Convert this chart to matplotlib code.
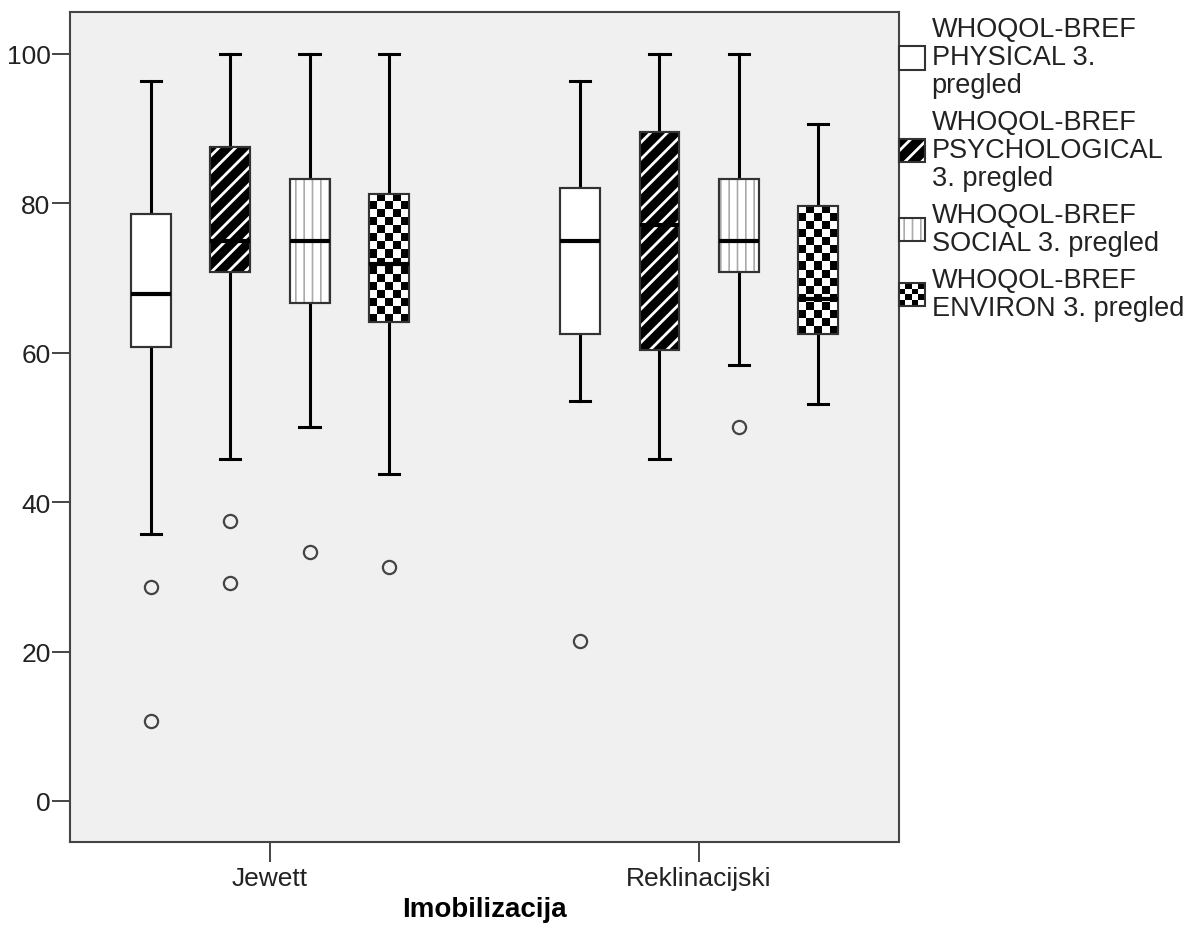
import numpy as np
import matplotlib
matplotlib.use('Agg')
import matplotlib.pyplot as plt
from matplotlib.patches import PathPatch, Rectangle, Patch
from matplotlib.legend_handler import HandlerBase

plt.rcParams['font.family'] = ['Liberation Sans', 'DejaVu Sans']
plt.rcParams['hatch.linewidth'] = 2.0

# Podaci (procijenjeno sa slike)
groups = ['Jewett', 'Reklinacijski']
series = ['WHOQOL-BREF\nPHYSICAL 3.\npregled',
          'WHOQOL-BREF\nPSYCHOLOGICAL\n3. pregled',
          'WHOQOL-BREF\nSOCIAL 3. pregled',
          'WHOQOL-BREF\nENVIRON 3. pregled']

# redoslijed: [physical, psychological, social, environ]
jew_whishi = [96.4, 100.0, 100.0, 100.0]
jew_q3 = [78.6, 87.5, 83.3, 81.3]
jew_med = [67.9, 75.0, 75.0, 71.9]
jew_q1 = [60.7, 70.8, 66.7, 64.1]
jew_whislo = [35.7, 45.8, 50.0, 43.8]
jew_fliers = [[28.6, 10.7], [37.5, 29.2], [33.3], [31.3]]

rek_whishi = [96.4, 100.0, 100.0, 90.6]
rek_q3 = [82.1, 89.6, 83.3, 79.7]
rek_med = [75.0, 77.1, 75.0, 67.2]
rek_q1 = [62.5, 60.4, 70.8, 62.5]
rek_whislo = [53.6, 45.8, 58.3, 53.1]
rek_fliers = [[21.4], [], [50.0], []]

styles = ['plain', 'stripes', 'dots', 'checker']

fig = plt.figure(figsize=(11.99, 9.45), dpi=100)
ax = fig.add_axes([0.0584, 0.1079, 0.6914, 0.8783])
ax.set_facecolor('#f0f0f0')

def make_stats(whishi, q3, med, q1, whislo, fliers):
    out = []
    for i in range(4):
        out.append(dict(med=med[i], q1=q1[i], q3=q3[i], whislo=whislo[i],
                        whishi=whishi[i], fliers=fliers[i]))
    return out

stats = make_stats(jew_whishi, jew_q3, jew_med, jew_q1, jew_whislo, jew_fliers) + \
        make_stats(rek_whishi, rek_q3, rek_med, rek_q1, rek_whislo, rek_fliers)

step = 0.1846
offsets = (np.arange(4) - 1.5) * step
positions = np.concatenate([g + offsets for g in range(len(groups))])
box_w = 0.093

bp = ax.bxp(stats, positions=positions, widths=box_w, patch_artist=True,
            showfliers=True, manage_ticks=False,
            boxprops=dict(facecolor='white', edgecolor='#333333', linewidth=1.5),
            whiskerprops=dict(color='black', linewidth=2.2, zorder=1.5),
            capprops=dict(color='black', linewidth=2.2),
            capwidths=0.047,
            medianprops=dict(color='black', linewidth=3.0, zorder=4),
            flierprops=dict(marker='o', markerfacecolor='none', markeredgecolor='#444444',
                            markersize=9.5, markeredgewidth=1.6))

ypx = 7.47  # piksela po jedinici na y osi

for k, box in enumerate(bp['boxes']):
    st = styles[k % 4]
    path = box.get_path()
    verts = path.vertices
    x0, x1 = verts[:, 0].min(), verts[:, 0].max()
    y0, y1 = verts[:, 1].min(), verts[:, 1].max()
    if st == 'stripes':
        box.set_facecolor('black')
        ax.add_patch(PathPatch(path, facecolor='none', edgecolor='white', hatch='//',
                               linewidth=0, zorder=2.2))
    elif st == 'dots':
        p = PathPatch(path, facecolor='none', edgecolor='#aaaaaa', hatch='||',
                      linewidth=0, zorder=2.2)
        if hasattr(p, 'set_hatch_linewidth'):
            p.set_hatch_linewidth(1.2)
        ax.add_patch(p)
    elif st == 'checker':
        nrow = max(1, int(round((y1 - y0) * ypx / 8)))
        ncol = 5
        img = (np.add.outer(np.arange(nrow), np.arange(ncol)) % 2).astype(float)
        ax.imshow(img, cmap='gray', extent=(x0, x1, y0, y1), aspect='auto',
                  interpolation='nearest', zorder=2.2, origin='lower')
    ax.add_patch(PathPatch(path, facecolor='none', edgecolor='#333333',
                           linewidth=1.5, zorder=3))

ax.set_xlim(-0.466, 1.466)
ax.set_ylim(-5.5, 105.6)
ax.set_yticks([0, 20, 40, 60, 80, 100])
ax.set_xticks(range(len(groups)))
ax.set_xticklabels(groups)
ax.tick_params(axis='y', length=13, width=1.4, color='#444444', labelsize=19,
               labelcolor='#222222', pad=1)
ax.tick_params(axis='x', length=14.5, width=1.4, color='#444444', labelsize=19,
               labelcolor='#222222', pad=3)
for sp in ax.spines.values():
    sp.set_color('#444444')
    sp.set_linewidth(1.5)

fig.text(0.404, 0.037, 'Imobilizacija', ha='center', va='center', fontsize=20,
         fontweight='bold')


class BoxHandler(HandlerBase):
    def __init__(self, kind):
        super().__init__()
        self.kind = kind

    def create_artists(self, legend, orig_handle, xdescent, ydescent, width,
                       height, fontsize, trans):
        x0, y0 = -xdescent, -ydescent
        arts = []
        if self.kind == 'plain':
            arts.append(Rectangle((x0, y0), width, height, facecolor='white', lw=0))
        elif self.kind == 'stripes':
            arts.append(Rectangle((x0, y0), width, height, facecolor='black', lw=0))
            arts.append(Rectangle((x0, y0), width, height, facecolor='none',
                                  edgecolor='white', hatch='//', lw=0))
        elif self.kind == 'dots':
            arts.append(Rectangle((x0, y0), width, height, facecolor='white', lw=0))
            r = Rectangle((x0, y0), width, height, facecolor='none',
                          edgecolor='#aaaaaa', hatch='||', lw=0)
            if hasattr(r, 'set_hatch_linewidth'):
                r.set_hatch_linewidth(1.2)
            arts.append(r)
        elif self.kind == 'checker':
            n = 4
            arts.append(Rectangle((x0, y0), width, height, facecolor='white', lw=0))
            for i in range(n):
                for j in range(n):
                    if (i + j) % 2 == 0:
                        arts.append(Rectangle((x0 + i * width / n, y0 + j * height / n),
                                              width / n, height / n,
                                              facecolor='black', lw=0))
        arts.append(Rectangle((x0, y0), width, height, facecolor='none',
                              edgecolor='#333333', lw=1.5))
        for a in arts:
            a.set_transform(trans)
        return arts


handles = [Patch() for _ in series]
hmap = {h: BoxHandler(s) for h, s in zip(handles, styles)}
leg = ax.legend(handles, series, handler_map=hmap, loc='upper left',
                bbox_to_anchor=(1.0, 0.995), borderaxespad=0, borderpad=0,
                frameon=False, fontsize=19.5, handlelength=0.95, handleheight=0.95,
                handletextpad=0.25, labelspacing=0.4)
for t in leg.get_texts():
    t.set_linespacing(1.1)
    t.set_color('#222222')

fig.savefig('out.png', dpi=100)
